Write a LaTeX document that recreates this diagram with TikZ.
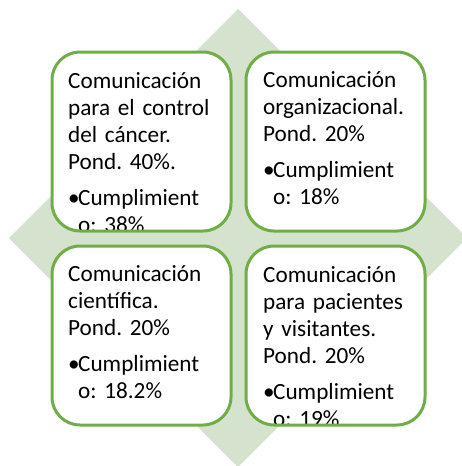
\documentclass[tikz,border=0pt]{standalone}
\usepackage{fontspec}
\setmainfont{Carlito}
\definecolor{gr}{HTML}{70AD47}
\definecolor{lg}{HTML}{D5E3CE}
\begin{document}
\begin{tikzpicture}[x=1pt,y=-1pt,
  boxfill/.style={fill=white, rounded corners=28pt, minimum width=179pt, minimum height=179pt, inner sep=0pt, outer sep=0pt, anchor=north west},
  border/.style={draw=gr, line width=3pt, rounded corners=28pt},
  txt/.style={anchor=base west, inner sep=0pt, align=left, text width=175pt, font=\fontsize{23.2pt}{27pt}\selectfont\frenchspacing}]
\useasboundingbox (0,0) rectangle (462,466);
\begin{scope}
  \clip (0,0) rectangle (462,466);
  \fill[lg] (238,9) -- (467,238) -- (238,467) -- (9,238) -- cycle;
\end{scope}
% boxes
\node[boxfill] (b1) at (52,52) {};
\node[boxfill] (b2) at (246,52) {};
\node[boxfill] (b3) at (52,246) {};
\node[boxfill] (b4) at (246,246) {};
% texts
\begin{scope}
  \clip[rounded corners=28pt] (b1.north west) rectangle (b1.south east);
  \node[txt] (t1) at (68,88) {Comunicación\\para el control\\del cáncer.\\Pond. 40\%.\\[9pt]\makebox[10pt][l]{•}Cumplimient\\\hspace*{10pt}o: 38\%};
\end{scope}
\begin{scope}
  \clip[rounded corners=28pt] (b2.north west) rectangle (b2.south east);
  \node[txt] (t2) at (263,87) {Comunicación\\organizacional.\\Pond. 20\%\\[9pt]\makebox[10pt][l]{•}Cumplimient\\\hspace*{10pt}o: 18\%};
\end{scope}
\begin{scope}
  \clip[rounded corners=28pt] (b3.north west) rectangle (b3.south east);
  \node[txt] (t3) at (68,281) {Comunicación\\científica.\\Pond. 20\%\\[9pt]\makebox[10pt][l]{•}Cumplimient\\\hspace*{10pt}o: 18.2\%};
\end{scope}
\begin{scope}
  \clip[rounded corners=28pt] (b4.north west) rectangle (b4.south east);
  \node[txt] (t4) at (263,282) {Comunicación\\para pacientes\\y visitantes.\\Pond. 20\%\\[9pt]\makebox[10pt][l]{•}Cumplimient\\\hspace*{10pt}o: 19\%};
\end{scope}
% borders
\draw[border] (b1.north west) rectangle (b1.south east);
\draw[border] (b2.north west) rectangle (b2.south east);
\draw[border] (b3.north west) rectangle (b3.south east);
\draw[border] (b4.north west) rectangle (b4.south east);
\end{tikzpicture}
\end{document}
